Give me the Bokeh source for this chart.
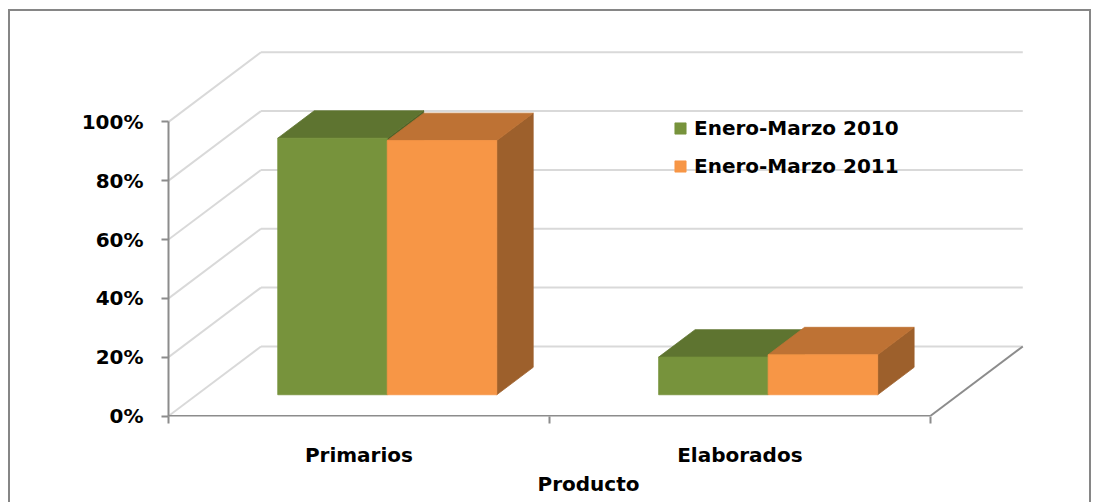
from bokeh.plotting import figure
from bokeh.models import FixedTicker, Legend, LegendItem, Range1d, Title
from bokeh.embed import file_html
from bokeh.resources import INLINE

# ---------------- data ----------------
categories = ["Primarios", "Elaborados"]
series_names = ["Enero-Marzo 2010", "Enero-Marzo 2011"]
values_2010 = [87.2, 12.8]
values_2011 = [86.4, 13.6]
y_ticks = [0, 20, 40, 60, 80, 100]
y_tick_labels = ["0%", "20%", "40%", "60%", "80%", "100%"]
axis_title = "Producto"

front_colors = ["#77933C", "#F79646"]
top_colors = ["#5E7430", "#BE7234"]
side_colors = ["#4F6228", "#9D602C"]

# ---------------- 3D projection (oblique) ----------------
DX = 0.2428      # x-shift for full depth (category units)
DY = 23.66       # y-shift for full depth (percent units)
D0, D1 = 0.306, 0.70   # bar depth span
W = 0.2875             # bar width (category units)


def proj(x, v, d):
    return x + d * DX, v + d * DY


def poly(pts):
    xs, ys = zip(*[proj(*p) for p in pts])
    return list(xs), list(ys)


FONT = "DejaVu Sans"

p = figure(width=1094, height=502, output_backend="svg", toolbar_location=None,
           x_range=Range1d(0, 2.2893), y_range=Range1d(-0.15, 134.45),
           min_border_left=168, min_border_right=54, min_border_top=20,
           min_border_bottom=86)
p.outline_line_color = None
p.xgrid.visible = False
p.ygrid.visible = False
p.background_fill_color = None
p.border_fill_color = None

# outer chart border (drawn as CSS background behind the transparent canvas)
GRAY = "#868686"
g = f"linear-gradient({GRAY},{GRAY})"
p.styles = {"background": (f"{g} 8px 9px / 2px 493px no-repeat, "
                           f"{g} 8px 9px / 1083px 2px no-repeat, "
                           f"{g} 1089px 9px / 2px 493px no-repeat, #ffffff")}

# ---------------- walls / floor ----------------
n_cat = len(categories)
grid_xs, grid_ys = [], []
for t in y_ticks:
    a = proj(0, t, 0)
    b = proj(0, t, 1)
    grid_xs.append([a[0], b[0]])
    grid_ys.append([a[1], b[1]])
    c = proj(n_cat, t, 1)
    grid_xs.append([b[0], c[0]])
    grid_ys.append([b[1], c[1]])
p.multi_line(grid_xs, grid_ys, line_color="#D9D9D9", line_width=2)

fr = [proj(n_cat, 0, 0), proj(n_cat, 0, 1)]
p.line([q[0] for q in fr], [q[1] for q in fr], line_color="#8C8C8C", line_width=2)
ff = [proj(0, 0, 0), proj(n_cat, 0, 0)]
p.line([q[0] for q in ff], [q[1] for q in ff], line_color="#8C8C8C", line_width=2)

# ---------------- bars ----------------
series_vals = [values_2010, values_2011]
front_renderers = []
for j, vals in enumerate(series_vals):
    fx, fy, tx, ty, sx, sy = [], [], [], [], [], []
    for i, v in enumerate(vals):
        c = i + 0.5
        x0 = c - W + j * W
        x1 = x0 + W
        a, b = poly([(x1, 0, D0), (x1, 0, D1), (x1, v, D1), (x1, v, D0)])
        sx.append(a); sy.append(b)
        a, b = poly([(x0, v, D0), (x1, v, D0), (x1, v, D1), (x0, v, D1)])
        tx.append(a); ty.append(b)
        a, b = poly([(x0, 0, D0), (x1, 0, D0), (x1, v, D0), (x0, v, D0)])
        fx.append(a); fy.append(b)
    p.patches(sx, sy, fill_color=side_colors[j], line_color=side_colors[j], line_width=0.8)
    p.patches(tx, ty, fill_color=top_colors[j], line_color=top_colors[j], line_width=0.8)
    r = p.patches(fx, fy, fill_color=front_colors[j], line_color=front_colors[j], line_width=0.8)
    front_renderers.append(r)

# ---------------- axes ----------------
yax = p.yaxis[0]
yax.ticker = FixedTicker(ticks=y_ticks, minor_ticks=[])
yax.major_label_overrides = {t: l for t, l in zip(y_ticks, y_tick_labels)}
yax.bounds = (0, 100)
yax.axis_line_color = "#8C8C8C"
yax.axis_line_width = 2
yax.major_tick_line_color = "#8C8C8C"
yax.major_tick_line_width = 2
yax.major_tick_out = 7
yax.major_tick_in = 0
yax.minor_tick_line_color = None
yax.major_label_standoff = 18
yax.major_label_text_font = FONT
yax.major_label_text_font_style = "bold"
yax.major_label_text_font_size = "20px"
yax.major_label_text_color = "#000000"

xax = p.xaxis[0]
xax.ticker = FixedTicker(ticks=[i + 0.5 for i in range(n_cat)],
                         minor_ticks=list(range(n_cat + 1)))
xax.major_label_overrides = {i + 0.5: c for i, c in enumerate(categories)}
xax.bounds = (0, n_cat)
xax.axis_line_color = None
xax.major_tick_line_color = None
xax.major_tick_out = 0
xax.major_tick_in = 0
xax.minor_tick_line_color = "#8C8C8C"
xax.minor_tick_line_width = 2
xax.minor_tick_out = 7
xax.minor_tick_in = 0
xax.major_label_standoff = 19
xax.major_label_text_font = FONT
xax.major_label_text_font_style = "bold"
xax.major_label_text_font_size = "20px"
xax.major_label_text_color = "#000000"

p.add_layout(Title(text=axis_title, align="left", offset=369, standoff=0,
                   text_font=FONT, text_font_style="bold", text_font_size="20px",
                   text_color="#000000"), "below")

# ---------------- legend ----------------
legend = Legend(items=[LegendItem(label=series_names[k], renderers=[front_renderers[k]])
                       for k in range(len(series_names))],
                location=(505, 238), orientation="vertical",
                glyph_width=14, glyph_height=14, label_standoff=7,
                spacing=14, padding=0, margin=0,
                border_line_color=None, background_fill_alpha=0,
                label_text_font=FONT, label_text_font_style="bold",
                label_text_font_size="20px", label_text_color="#000000")
p.add_layout(legend)

open("out.html", "w").write(file_html(p, INLINE))
